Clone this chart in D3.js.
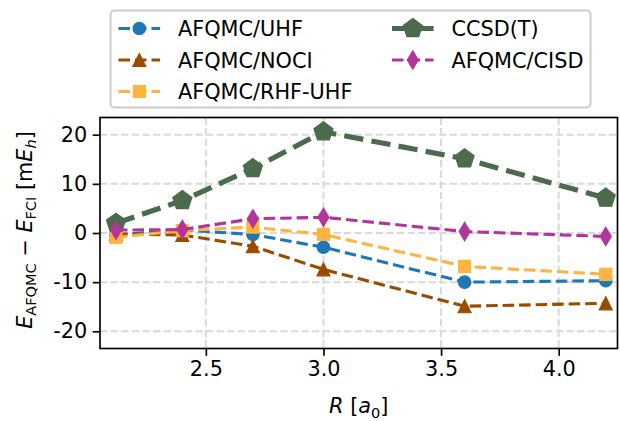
<!DOCTYPE html>
<html>
<head>
<meta charset="utf-8">
<script src="https://cdn.jsdelivr.net/npm/d3@7"></script>
<style>
  html, body { margin: 0; padding: 0; background: #fff; }
  svg { display: block; font-family: "DejaVu Sans", sans-serif; }
</style>
</head>
<body>
<svg id="chart" width="620" height="421"></svg>
<script>
// Bond lengths R [a0]
const bondLengths = [2.118, 2.4, 2.7, 3.0, 3.6, 4.2];

// Energy errors relative to FCI [mEh]
const afqmcUHF    = [-0.4, 0.6, -0.3, -2.9, -10.0, -9.7];
const afqmcNOCI   = [-0.2, -0.4, -2.7, -7.4, -14.9, -14.3];
const afqmcRHFUHF = [-0.9, 0.5, 1.2, -0.3, -6.8, -8.4];
const ccsdT       = [2.0, 6.6, 13.1, 20.6, 15.1, 7.1];
const afqmcCISD   = [0.6, 0.7, 2.9, 3.2, 0.3, -0.7];

const seriesNames = ["AFQMC/UHF", "AFQMC/NOCI", "AFQMC/RHF-UHF", "CCSD(T)", "AFQMC/CISD"];

const xTicks = [2.5, 3.0, 3.5, 4.0];
const yTicks = [-20, -10, 0, 10, 20];

const xDomain = [2.05, 4.25];
const yDomain = [-23.5, 23.5];

// Styling per series
const styles = [
  { values: afqmcUHF,    color: "#1f77b4", marker: "circle",   size: 12.5, lw: 3.1, dash: "11.5,5" },
  { values: afqmcNOCI,   color: "#994c00", marker: "triangle", size: 13,   lw: 3.1, dash: "11.5,5" },
  { values: afqmcRHFUHF, color: "#ffb340", marker: "square",   size: 12,   lw: 3.1, dash: "11.5,5" },
  { values: ccsdT,       color: "#4c6a4c", marker: "pentagon", size: 20,   lw: 5.2, dash: "19.3,8.3" },
  { values: afqmcCISD,   color: "#b0369c", marker: "thin_diamond", size: 13, lw: 3.1, dash: "11.5,5" }
];

const fs = 20.8;
const svg = d3.select("#chart");

const plot = { left: 100, right: 617.5, top: 117.5, bottom: 348.5 };

const x = d3.scaleLinear().domain(xDomain).range([plot.left, plot.right]);
const y = d3.scaleLinear().domain(yDomain).range([plot.bottom, plot.top]);

// Marker shapes centred at the origin, scaled by marker size s
function markerPath(kind, s) {
  const h = s / 2;
  if (kind === "circle") {
    return d3.arc()({ innerRadius: 0, outerRadius: h, startAngle: 0, endAngle: 2 * Math.PI });
  }
  if (kind === "square") {
    return `M${-h},${-h}L${h},${-h}L${h},${h}L${-h},${h}Z`;
  }
  if (kind === "triangle") {
    return `M0,${-h}L${h},${h}L${-h},${h}Z`;
  }
  if (kind === "thin_diamond") {
    const dy = h * Math.SQRT2, dx = dy * 0.6;
    return `M0,${-dy}L${dx},0L0,${dy}L${-dx},0Z`;
  }
  if (kind === "pentagon") {
    const pts = d3.range(5).map(i => {
      const a = -Math.PI / 2 + i * 2 * Math.PI / 5;
      return [h * Math.cos(a), h * Math.sin(a)];
    });
    return "M" + pts.map(p => p.join(",")).join("L") + "Z";
  }
}

// Clip region for the data
svg.append("defs").append("clipPath").attr("id", "plotclip")
  .append("rect")
  .attr("x", plot.left).attr("y", plot.top)
  .attr("width", plot.right - plot.left).attr("height", plot.bottom - plot.top);

// Grid lines
const grid = svg.append("g").attr("class", "grid");
grid.selectAll("line.gx").data(xTicks).join("line")
  .attr("x1", d => x(d)).attr("x2", d => x(d))
  .attr("y1", plot.top).attr("y2", plot.bottom)
  .attr("stroke", "#d9d9d9").attr("stroke-width", 2).attr("stroke-dasharray", "7.4,3.2");
grid.selectAll("line.gy").data(yTicks).join("line")
  .attr("x1", plot.left).attr("x2", plot.right)
  .attr("y1", d => y(d)).attr("y2", d => y(d))
  .attr("stroke", "#d9d9d9").attr("stroke-width", 2).attr("stroke-dasharray", "7.4,3.2");

// Series
const data = svg.append("g").attr("clip-path", "url(#plotclip)");
styles.forEach(st => {
  const pts = bondLengths.map((b, i) => [b, st.values[i]]);
  const g = data.append("g");
  g.append("path")
    .attr("d", d3.line().x(d => x(d[0])).y(d => y(d[1]))(pts))
    .attr("fill", "none").attr("stroke", st.color)
    .attr("stroke-width", st.lw).attr("stroke-dasharray", st.dash);
  g.selectAll("path.m").data(pts).join("path")
    .attr("class", "m")
    .attr("transform", d => `translate(${x(d[0])},${y(d[1])})`)
    .attr("d", markerPath(st.marker, st.size))
    .attr("fill", st.color).attr("stroke", st.color).attr("stroke-width", 1.2)
    .attr("stroke-linejoin", "miter");
});

// Axes
const xAxis = d3.axisBottom(x).tickValues(xTicks).tickFormat(d3.format(".1f"))
  .tickSize(7.3).tickPadding(5.5);
const yAxis = d3.axisLeft(y).tickValues(yTicks).tickFormat(d => String(d))
  .tickSize(7.3).tickPadding(5.5);

const gx = svg.append("g").attr("transform", `translate(0,${plot.bottom})`).call(xAxis);
const gy = svg.append("g").attr("transform", `translate(${plot.left},0)`).call(yAxis);
[gx, gy].forEach(g => {
  g.select(".domain").remove();
  g.selectAll(".tick line").attr("stroke", "#000").attr("stroke-width", 1.67);
  g.selectAll(".tick text").attr("fill", "#000")
    .attr("font-size", fs).attr("font-family", "DejaVu Sans");
});

// Frame
svg.append("rect")
  .attr("x", plot.left).attr("y", plot.top)
  .attr("width", plot.right - plot.left).attr("height", plot.bottom - plot.top)
  .attr("fill", "none").attr("stroke", "#000").attr("stroke-width", 1.67);

// X axis label: R [a0]
const xl = svg.append("text")
  .attr("x", (plot.left + plot.right) / 2).attr("y", 413)
  .attr("text-anchor", "middle").attr("font-size", fs).attr("fill", "#000");
xl.append("tspan").attr("font-style", "italic").text("R");
xl.append("tspan").text(" [");
xl.append("tspan").attr("font-style", "italic").text("a");
xl.append("tspan").attr("font-size", fs * 0.7).attr("dy", 4.5).text("0");
xl.append("tspan").attr("dy", -4.5).text("]");

// Y axis label: E_AFQMC − E_FCI [mE_h]
const yl = svg.append("text")
  .attr("transform", `translate(31.5,${(plot.top + plot.bottom) / 2 - 3}) rotate(-90)`)
  .attr("text-anchor", "middle").attr("font-size", fs).attr("fill", "#000");
yl.append("tspan").attr("font-style", "italic").text("E");
yl.append("tspan").attr("font-size", fs * 0.7).attr("dy", 4.5).text("AFQMC");
yl.append("tspan").attr("dy", -4.5).text(" \u2212 ");
yl.append("tspan").attr("font-style", "italic").text("E");
yl.append("tspan").attr("font-size", fs * 0.7).attr("dy", 4.5).text("FCI");
yl.append("tspan").attr("dy", -4.5).text(" [m");
yl.append("tspan").attr("font-style", "italic").text("E");
yl.append("tspan").attr("font-size", fs * 0.7).attr("font-style", "italic").attr("dy", 4.5).text("h");
yl.append("tspan").attr("dy", -4.5).text("]");

// Legend
const legend = svg.append("g");
legend.append("rect")
  .attr("x", 110.5).attr("y", 10.5).attr("width", 480).attr("height", 97)
  .attr("rx", 4).attr("fill", "#fff").attr("fill-opacity", 0.8)
  .attr("stroke", "#cccccc").attr("stroke-width", 2);

const legendPos = [
  { col: 0, row: 0 }, { col: 0, row: 1 }, { col: 0, row: 2 },
  { col: 1, row: 0 }, { col: 1, row: 1 }
];
const colX = [118.5, 392];
const rowY = [28.5, 60, 91.5];
styles.forEach((st, i) => {
  const p = legendPos[i];
  const lx = colX[p.col], ly = rowY[p.row];
  const g = legend.append("g");
  g.append("line")
    .attr("x1", lx).attr("x2", lx + 41.6).attr("y1", ly).attr("y2", ly)
    .attr("stroke", st.color).attr("stroke-width", st.lw).attr("stroke-dasharray", st.dash);
  g.append("path")
    .attr("transform", `translate(${lx + 20.8},${ly})`)
    .attr("d", markerPath(st.marker, st.size))
    .attr("fill", st.color).attr("stroke", st.color).attr("stroke-width", 1.2);
  g.append("text")
    .attr("x", lx + 59.5).attr("y", ly + 7.6)
    .attr("font-size", fs).attr("fill", "#000")
    .text(seriesNames[i]);
});
</script>
</body>
</html>
